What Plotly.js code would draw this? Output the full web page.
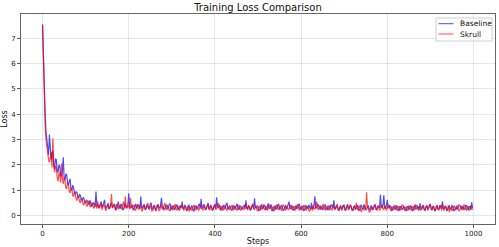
<!DOCTYPE html>
<html>
<head>
<meta charset="utf-8">
<script src="https://cdn.plot.ly/plotly-3.0.1.min.js"></script>
<style>html,body{margin:0;padding:0;background:#fff;}#chart{width:499px;height:247px;}</style>
</head>
<body>
<div id="chart"></div>
<script>
// Sampled every 2 steps (0..998)
const stepInterval = 2;
const baselineLoss = [
  7.52, 6.1, 4.7, 4.05, 3.3, 2.9, 2.65, 2.4, 3.2, 2.6, 2.2, 2.45, 2.55, 2.0, 1.85, 2.25, 2.2, 1.75, 1.7, 2.0,
  1.95, 1.6, 1.55, 1.75, 2.3, 1.5, 1.4, 1.65, 1.6, 1.3, 1.2, 1.35, 1.45, 1.05, 1.0, 1.2, 1.1, 0.9, 0.85, 0.95,
  0.9, 0.75, 0.7, 0.85, 0.78, 0.62, 0.6, 0.72, 0.68, 0.52, 0.5, 0.62, 0.58, 0.46, 0.45, 0.6, 0.52, 0.38, 0.4, 0.5,
  0.48, 0.35, 0.95, 0.4, 0.42, 0.3, 0.35, 0.48, 0.55, 0.32, 0.38, 0.5, 0.62, 0.28, 0.33, 0.44, 0.45, 0.26, 0.3, 0.42,
  0.5, 0.3, 0.36, 0.45, 0.42, 0.24, 0.28, 0.4, 0.55, 0.3, 0.32, 0.46, 0.4, 0.22, 0.25, 0.38, 0.48, 0.3, 0.35, 0.42,
  0.88, 0.34, 0.3, 0.4, 0.42, 0.22, 0.27, 0.38, 0.46, 0.28, 0.33, 0.44, 0.38, 0.26, 0.75, 0.32, 0.3, 0.4, 0.44, 0.24,
  0.25, 0.38, 0.4, 0.28, 0.32, 0.46, 0.5, 0.26, 0.28, 0.4, 0.36, 0.2, 0.22, 0.34, 0.45, 0.3, 0.3, 0.42, 0.7, 0.28,
  0.35, 0.22, 0.27, 0.4, 0.42, 0.26, 0.3, 0.44, 0.48, 0.24, 0.26, 0.36, 0.38, 0.22, 0.3, 0.42, 0.44, 0.26, 0.24, 0.36,
  0.4, 0.3, 0.55, 0.26, 0.3, 0.42, 0.36, 0.2, 0.22, 0.38, 0.42, 0.24, 0.28, 0.4, 0.34, 0.18, 0.2, 0.36, 0.38, 0.26,
  0.3, 0.42, 0.45, 0.28, 0.66, 0.3, 0.32, 0.44, 0.4, 0.24, 0.26, 0.38, 0.5, 0.28, 0.3, 0.42, 0.36, 0.22, 0.24, 0.38,
  0.44, 0.28, 0.72, 0.34, 0.3, 0.42, 0.38, 0.22, 0.25, 0.36, 0.42, 0.26, 0.3, 0.44, 0.5, 0.28, 0.27, 0.38, 0.35, 0.22,
  0.22, 0.36, 0.4, 0.26, 0.3, 0.42, 0.46, 0.24, 0.26, 0.38, 0.38, 0.24, 0.3, 0.42, 0.42, 0.26, 0.6, 0.3, 0.28, 0.4,
  0.36, 0.22, 0.24, 0.38, 0.4, 0.28, 0.68, 0.32, 0.3, 0.4, 0.35, 0.2, 0.22, 0.36, 0.44, 0.26, 0.3, 0.42, 0.38, 0.24,
  0.25, 0.38, 0.48, 0.28, 0.3, 0.44, 0.34, 0.2, 0.2, 0.36, 0.4, 0.26, 0.28, 0.42, 0.45, 0.24, 0.3, 0.4, 0.36, 0.2,
  0.22, 0.36, 0.42, 0.26, 0.32, 0.44, 0.55, 0.28, 0.27, 0.38, 0.38, 0.22, 0.24, 0.36, 0.4, 0.28, 0.3, 0.42, 0.46, 0.26,
  0.26, 0.38, 0.35, 0.2, 0.22, 0.36, 0.4, 0.28, 0.3, 0.42, 0.36, 0.24, 0.5, 0.3, 0.28, 0.4, 0.76, 0.3, 0.3, 0.44,
  0.42, 0.26, 0.24, 0.36, 0.36, 0.22, 0.28, 0.4, 0.44, 0.26, 0.25, 0.38, 0.38, 0.22, 0.3, 0.42, 0.42, 0.28, 0.6, 0.3,
  0.27, 0.38, 0.35, 0.22, 0.22, 0.36, 0.4, 0.26, 0.3, 0.42, 0.36, 0.2, 0.24, 0.38, 0.45, 0.28, 0.3, 0.4, 0.34, 0.22,
  0.2, 0.34, 0.4, 0.26, 0.28, 0.42, 0.36, 0.2, 0.22, 0.38, 0.42, 0.26, 0.3, 0.44, 0.34, 0.22, 0.26, 0.38, 0.4, 0.24,
  0.24, 0.38, 0.36, 0.22, 0.3, 0.42, 0.44, 0.26, 0.25, 0.36, 0.38, 0.3, 0.82, 0.34, 0.3, 0.4, 0.8, 0.32, 0.28, 0.4,
  0.62, 0.3, 0.3, 0.4, 0.36, 0.2, 0.22, 0.34, 0.38, 0.24, 0.28, 0.4, 0.34, 0.2, 0.22, 0.36, 0.36, 0.24, 0.26, 0.38,
  0.32, 0.2, 0.2, 0.34, 0.38, 0.24, 0.27, 0.4, 0.35, 0.2, 0.22, 0.36, 0.42, 0.26, 0.28, 0.38, 0.34, 0.22, 0.48, 0.3,
  0.26, 0.38, 0.36, 0.22, 0.22, 0.36, 0.4, 0.26, 0.3, 0.42, 0.44, 0.24, 0.25, 0.38, 0.34, 0.2, 0.2, 0.34, 0.36, 0.24,
  0.28, 0.4, 0.4, 0.26, 0.56, 0.3, 0.26, 0.38, 0.34, 0.2, 0.22, 0.36, 0.38, 0.24, 0.28, 0.42, 0.34, 0.2, 0.2, 0.34,
  0.36, 0.24, 0.3, 0.42, 0.42, 0.26, 0.24, 0.36, 0.34, 0.22, 0.28, 0.4, 0.4, 0.26, 0.24, 0.36, 0.36, 0.22, 0.52, 0.3
];
const skrullLoss = [
  7.55, 5.8, 4.3, 3.6, 3.0, 2.7, 2.4, 2.2, 2.1, 2.35, 2.5, 1.9, 3.05, 2.0, 1.7, 1.95, 1.9, 1.5, 1.35, 1.7,
  1.6, 1.3, 2.05, 1.45, 1.25, 1.5, 1.4, 1.1, 1.05, 1.3, 1.25, 0.95, 0.9, 1.1, 1.05, 0.8, 0.75, 0.95, 0.85, 0.65,
  0.6, 0.78, 0.72, 0.55, 0.5, 0.68, 0.62, 0.45, 0.42, 0.58, 0.55, 0.38, 0.38, 0.52, 0.6, 0.36, 0.35, 0.5, 0.48, 0.3,
  0.3, 0.46, 0.42, 0.28, 0.55, 0.36, 0.28, 0.44, 0.45, 0.24, 0.3, 0.42, 0.4, 0.22, 0.22, 0.38, 0.5, 0.3, 0.32, 0.44,
  0.85, 0.3, 0.35, 0.44, 0.28, 0.2, 0.46, 0.3, 0.25, 0.38, 0.4, 0.26, 0.3, 0.44, 0.55, 0.28, 0.75, 0.36, 0.28, 0.4,
  0.38, 0.26, 0.7, 0.34, 0.3, 0.42, 0.4, 0.22, 0.22, 0.36, 0.45, 0.26, 0.28, 0.4, 0.36, 0.2, 0.2, 0.34, 0.42, 0.26,
  0.3, 0.44, 0.5, 0.28, 0.25, 0.38, 0.34, 0.18, 0.2, 0.36, 0.4, 0.24, 0.3, 0.42, 0.36, 0.2, 0.22, 0.36, 0.44, 0.26,
  0.28, 0.42, 0.5, 0.26, 0.24, 0.38, 0.36, 0.2, 0.2, 0.34, 0.4, 0.24, 0.26, 0.4, 0.45, 0.24, 0.22, 0.36, 0.34, 0.2,
  0.28, 0.4, 0.4, 0.24, 0.2, 0.34, 0.36, 0.22, 0.25, 0.38, 0.16, 0.28, 0.32, 0.2, 0.24, 0.38, 0.4, 0.26, 0.22, 0.36,
  0.34, 0.2, 0.28, 0.4, 0.42, 0.26, 0.2, 0.34, 0.36, 0.22, 0.3, 0.42, 0.44, 0.26, 0.22, 0.36, 0.34, 0.2, 0.26, 0.38,
  0.4, 0.24, 0.28, 0.42, 0.5, 0.3, 0.22, 0.36, 0.36, 0.2, 0.25, 0.38, 0.4, 0.24, 0.2, 0.34, 0.34, 0.22, 0.28, 0.4,
  0.42, 0.26, 0.22, 0.36, 0.36, 0.2, 0.26, 0.38, 0.4, 0.24, 0.2, 0.34, 0.34, 0.22, 0.28, 0.42, 0.44, 0.28, 0.22, 0.36,
  0.36, 0.22, 0.3, 0.44, 0.48, 0.26, 0.24, 0.38, 0.34, 0.2, 0.2, 0.34, 0.38, 0.22, 0.26, 0.4, 0.42, 0.26, 0.22, 0.36,
  0.34, 0.2, 0.28, 0.42, 0.4, 0.24, 0.18, 0.32, 0.36, 0.22, 0.25, 0.38, 0.44, 0.28, 0.22, 0.36, 0.34, 0.2, 0.3, 0.42,
  0.4, 0.24, 0.2, 0.34, 0.36, 0.22, 0.26, 0.38, 0.42, 0.26, 0.22, 0.36, 0.34, 0.2, 0.28, 0.42, 0.46, 0.3, 0.2, 0.34,
  0.34, 0.2, 0.26, 0.4, 0.4, 0.24, 0.22, 0.36, 0.36, 0.2, 0.18, 0.3, 0.32, 0.2, 0.42, 0.28, 0.25, 0.4, 0.55, 0.3,
  0.22, 0.36, 0.38, 0.24, 0.28, 0.42, 0.44, 0.26, 0.2, 0.34, 0.34, 0.2, 0.26, 0.38, 0.4, 0.24, 0.22, 0.36, 0.36, 0.22,
  0.3, 0.42, 0.46, 0.28, 0.2, 0.34, 0.34, 0.2, 0.26, 0.4, 0.42, 0.26, 0.22, 0.36, 0.36, 0.22, 0.28, 0.42, 0.4, 0.24,
  0.2, 0.34, 0.34, 0.22, 0.5, 0.3, 0.22, 0.36, 0.38, 0.24, 0.14, 0.28, 0.3, 0.2, 0.4, 0.26, 0.92, 0.36, 0.2, 0.14,
  0.15, 0.3, 0.36, 0.22, 0.28, 0.42, 0.4, 0.24, 0.22, 0.36, 0.34, 0.2, 0.26, 0.4, 0.45, 0.28, 0.22, 0.36, 0.36, 0.2,
  0.28, 0.42, 0.4, 0.24, 0.2, 0.34, 0.34, 0.22, 0.26, 0.4, 0.38, 0.22, 0.22, 0.36, 0.36, 0.2, 0.28, 0.42, 0.42, 0.26,
  0.2, 0.34, 0.34, 0.2, 0.24, 0.38, 0.38, 0.24, 0.22, 0.36, 0.34, 0.2, 0.28, 0.42, 0.4, 0.24, 0.2, 0.34, 0.32, 0.2,
  0.26, 0.4, 0.4, 0.24, 0.22, 0.36, 0.36, 0.2, 0.28, 0.42, 0.42, 0.26, 0.2, 0.34, 0.34, 0.2, 0.26, 0.4, 0.4, 0.24,
  0.22, 0.36, 0.34, 0.2, 0.45, 0.28, 0.2, 0.34, 0.36, 0.22, 0.26, 0.4, 0.14, 0.26, 0.32, 0.2, 0.22, 0.36, 0.38, 0.24,
  0.26, 0.4, 0.34, 0.2, 0.2, 0.34, 0.36, 0.22, 0.28, 0.42, 0.4, 0.24, 0.22, 0.36, 0.34, 0.2, 0.26, 0.4, 0.3, 0.22
];
const xTickVals = [0, 200, 400, 600, 800, 1000];
const yTickVals = [0, 1, 2, 3, 4, 5, 6, 7];
const seriesNames = ["Baseline", "Skrull"];
const seriesColors = ["rgba(0,0,255,0.7)", "rgba(255,0,0,0.7)"];

const steps = baselineLoss.map((_, i) => i * stepInterval);

const font = "DejaVu Sans, sans-serif";
const M = {l: 21, r: 4, t: 14, b: 23};
const W = 499, H = 247;
const pw = W - M.l - M.r, ph = H - M.t - M.b;
const px = x => (x - M.l) / pw;      // pixel -> paper x
const py = y => (H - M.b - y) / ph;  // pixel -> paper y

const traces = [
  {x: steps, y: baselineLoss, name: seriesNames[0], type: "scatter", mode: "lines",
   line: {color: seriesColors[0], width: 1.2}, showlegend: false},
  {x: steps, y: skrullLoss, name: seriesNames[1], type: "scatter", mode: "lines",
   line: {color: seriesColors[1], width: 1.2}, showlegend: false}
];
const axisCommon = {
  showline: true, mirror: true, linecolor: "#666", linewidth: 1,
  showgrid: true, gridcolor: "rgba(176,176,176,0.3)", gridwidth: 1,
  zeroline: false, ticks: "outside", ticklen: 3, tickwidth: 1, tickcolor: "#555",
  tickfont: {family: font, size: 7, color: "#222"}
};
// custom compact legend (matplotlib style)
const legendRows = [py(23.7), py(34)];
const shapes = [
  {type: "rect", xref: "paper", yref: "paper", x0: px(436), x1: px(492), y0: py(41), y1: py(18),
   line: {color: "#cfcfcf", width: 1}, fillcolor: "rgba(255,255,255,0.85)", layer: "above"}
];
const annotations = [];
seriesNames.forEach((n, i) => {
  shapes.push({type: "line", xref: "paper", yref: "paper", x0: px(438.5), x1: px(453.5),
    y0: legendRows[i], y1: legendRows[i], line: {color: seriesColors[i], width: 1}, layer: "above"});
  annotations.push({text: n, xref: "paper", yref: "paper", x: px(458), y: legendRows[i],
    xanchor: "left", yanchor: "middle", showarrow: false,
    font: {family: font, size: 7.5, color: "#111"}});
});

const layout = {
  width: W, height: H,
  margin: {l: M.l, r: M.r, t: M.t, b: M.b, pad: 0},
  paper_bgcolor: "#fff", plot_bgcolor: "#fff",
  font: {family: font, color: "#222"},
  title: {text: "Training Loss Comparison", font: {family: font, size: 10, color: "#111"},
          x: 0.517, xanchor: "center", y: 0.97, yanchor: "middle", yref: "container"},
  xaxis: Object.assign({}, axisCommon, {
    range: [-50, 1050], tickvals: xTickVals, ticktext: xTickVals.map(String),
    title: {text: "Steps", font: {family: font, size: 8, color: "#111"}, standoff: 0}
  }),
  yaxis: Object.assign({}, axisCommon, {
    range: [-0.33, 7.95], tickvals: yTickVals, ticktext: yTickVals.map(String),
    title: {text: "Loss", font: {family: font, size: 8, color: "#111"}, standoff: 4}
  }),
  shapes: shapes,
  annotations: annotations,
  showlegend: false
};
Plotly.newPlot("chart", traces, layout, {staticPlot: true, displayModeBar: false});
</script>
</body>
</html>
